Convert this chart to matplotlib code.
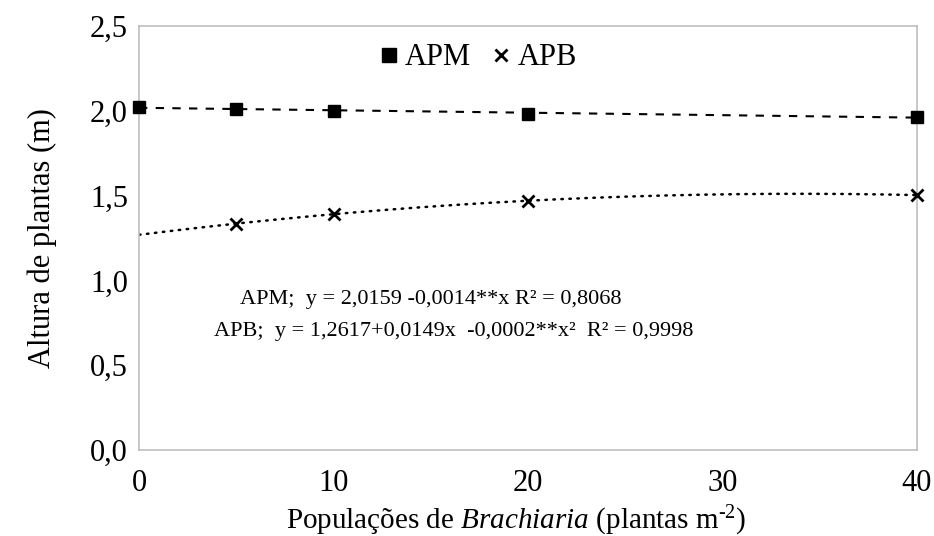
import numpy as np
import matplotlib
matplotlib.use("Agg")
import matplotlib.pyplot as plt
from matplotlib.lines import Line2D

plt.rcParams['font.family'] = ['Liberation Serif', 'DejaVu Serif']
plt.rcParams['mathtext.fontset'] = 'custom'
plt.rcParams['mathtext.rm'] = 'Liberation Serif'
plt.rcParams['mathtext.it'] = 'Liberation Serif:italic'

# data
pop = [0, 5, 10, 20, 40]
apm = [2.025, 2.01, 2.00, 1.98, 1.965]
pop_apb = [5, 10, 20, 40]
apb = [1.335, 1.39, 1.47, 1.503]

xticks = [0, 10, 20, 30, 40]
yticks = [0.0, 0.5, 1.0, 1.5, 2.0, 2.5]

fig = plt.figure(figsize=(9.34, 5.36), dpi=100)
ax = fig.add_axes([139/934, 1 - 450/536, (917-139)/934, (450-26)/536])

# trendlines (fitted like the spreadsheet did)
xs = np.linspace(0, 40, 200)
c1 = np.polyfit(pop, apm, 1)
c2 = np.polyfit(pop_apb, apb, 2)
ax.plot(xs, np.polyval(c1, xs), color='black', lw=1.5, ls=(0, (4, 4)), zorder=2)
ax.plot(xs, np.polyval(c2, xs), color='black', lw=1.8, ls=(0, (0.6, 2.6)),
        dash_capstyle='round', zorder=2)

ax.plot(pop, apm, ls='none', marker='s', ms=9, color='black', zorder=3, clip_on=False)
ax.plot(pop_apb, apb, ls='none', marker='x', ms=8, mew=2, color='black', zorder=3, clip_on=False)

ax.set_xlim(0, 40)
ax.set_ylim(0, 2.5)
ax.set_xticks(xticks)
ax.set_xticklabels([str(v) for v in xticks])
ax.set_yticks(yticks)
ax.set_yticklabels([f"{v:.1f}".replace('.', ',') for v in yticks])
ax.tick_params(length=0, labelsize=22)
ax.tick_params(axis='y', pad=8)
ax.tick_params(axis='x', pad=14)
for s in ax.spines.values():
    s.set_color('#bfbfbf')
    s.set_linewidth(1.2)

ax.set_ylabel('Altura de plantas (m)', fontsize=22, labelpad=24)
fig.text(0.553, 0.014, r'Populações de $\it{Brachiaria}$ (plantas m$^{\text{-2}}$)',
         fontsize=21, ha='center', va='baseline')

handles = [Line2D([], [], ls='none', marker='s', ms=10, color='black'),
           Line2D([], [], ls='none', marker='x', ms=8.5, mew=2, color='black')]
ax.legend(handles, ['APM', 'APB'], loc='center', bbox_to_anchor=(0.432, 0.925),
          ncol=2, frameon=False, fontsize=22, handletextpad=0.02, columnspacing=0.5,
          handlelength=1.0)

ax.text(5.2, 0.89, 'APM;  y = 2,0159 -0,0014**x R² = 0,8068', fontsize=16,
        ha='left', va='center')
ax.text(3.85, 0.70, 'APB;  y = 1,2617+0,0149x  -0,0002**x²  R² = 0,9998', fontsize=16,
        ha='left', va='center')

fig.savefig('out.png', dpi=100)
